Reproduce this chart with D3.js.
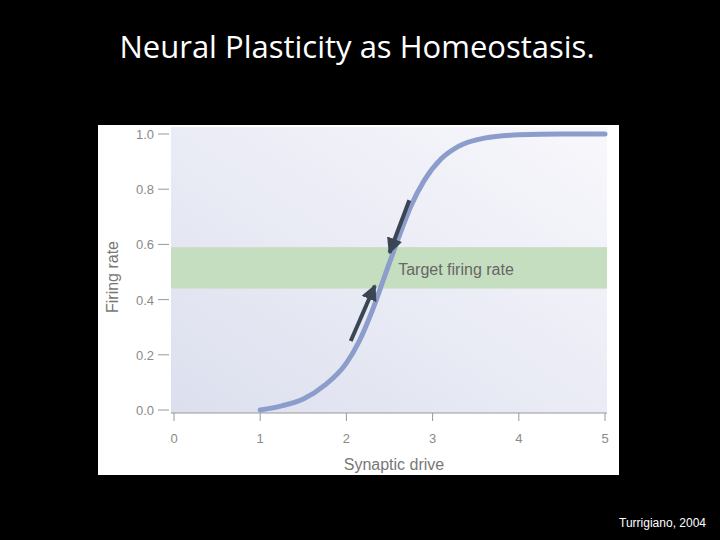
<!DOCTYPE html>
<html><head><meta charset="utf-8">
<script src="https://cdn.jsdelivr.net/npm/d3@7"></script>
<style>body{margin:0;background:#000;}</style>
</head><body>
<script>
const xTicks = [0, 1, 2, 3, 4, 5];
const yTicks = [0.0, 0.2, 0.4, 0.6, 0.8, 1.0];
const curveX = [1, 1.25, 1.5, 1.75, 2, 2.15, 2.3, 2.45, 2.6, 2.75, 2.9, 3.1, 3.3, 3.6, 4, 4.5, 5];
const curveY = [0, 0.015, 0.04, 0.09, 0.17, 0.25, 0.36, 0.49, 0.62, 0.74, 0.83, 0.91, 0.955, 0.985, 0.997, 1, 1];
const targetBand = [0.44, 0.59];
const arrows = [[[2.05, 0.25], [2.33, 0.45]], [[2.73, 0.76], [2.5, 0.57]]];

const svg = d3.select('body').append('svg').attr('width', 720).attr('height', 540);
svg.append('rect').attr('width', 720).attr('height', 540).attr('fill', '#000');
svg.append('text').attr('x', 357).attr('y', 58).attr('text-anchor', 'middle')
  .attr('fill', '#fff').style('font', '31px "Open Sans", sans-serif')
  .text('Neural Plasticity as Homeostasis.');

svg.append('rect').attr('x', 98).attr('y', 125).attr('width', 521).attr('height', 350).attr('fill', '#fff');

const x = d3.scaleLinear().domain([0, 5]).range([174, 605]);
const y = d3.scaleLinear().domain([0, 1]).range([410, 134]);

const defs = svg.append('defs');
const g = defs.append('linearGradient').attr('id', 'bg').attr('x1', 0).attr('y1', 1).attr('x2', 1).attr('y2', 0);
g.append('stop').attr('offset', 0).attr('stop-color', '#dcdfee');
g.append('stop').attr('offset', 1).attr('stop-color', '#f8f8fc');
const mk = defs.append('marker').attr('id', 'ah').attr('viewBox', '0 0 10 10').attr('refX', 9).attr('refY', 5)
  .attr('markerWidth', 4).attr('markerHeight', 4).attr('orient', 'auto');
mk.append('path').attr('d', 'M0,0L10,5L0,10Z').attr('fill', '#3b4654');

svg.append('rect').attr('x', 171).attr('y', 127).attr('width', 436).attr('height', 286).attr('fill', 'url(#bg)');
svg.append('rect').attr('x', 171).attr('y', y(targetBand[1])).attr('width', 436)
  .attr('height', y(targetBand[0]) - y(targetBand[1])).attr('fill', '#c5dec0');

const lab = {fill: '#8a8a8a', font: '13px "Liberation Sans", Arial, sans-serif'};
yTicks.forEach(t => {
  svg.append('line').attr('x1', 158).attr('x2', 169).attr('y1', y(t)).attr('y2', y(t)).attr('stroke', '#999');
  svg.append('text').attr('x', 154).attr('y', y(t) + 5).attr('text-anchor', 'end')
    .attr('fill', lab.fill).style('font', lab.font).text(t.toFixed(1));
});
svg.append('line').attr('x1', 171).attr('x2', 607).attr('y1', 413).attr('y2', 413).attr('stroke', '#999');
xTicks.forEach(t => {
  svg.append('line').attr('x1', x(t)).attr('x2', x(t)).attr('y1', 413).attr('y2', 421).attr('stroke', '#999');
  svg.append('text').attr('x', x(t)).attr('y', 443).attr('text-anchor', 'middle')
    .attr('fill', lab.fill).style('font', lab.font).text(t);
});
svg.append('text').attr('x', 394).attr('y', 470).attr('text-anchor', 'middle')
  .attr('fill', '#777').style('font', '16px "Liberation Sans", Arial, sans-serif').text('Synaptic drive');
svg.append('text').attr('transform', 'translate(118,277) rotate(-90)').attr('text-anchor', 'middle')
  .attr('fill', '#777').style('font', '16px "Liberation Sans", Arial, sans-serif').text('Firing rate');

const line = d3.line().x(d => x(d[0])).y(d => y(d[1])).curve(d3.curveMonotoneX);
svg.append('path').datum(curveX.map((v, i) => [v, curveY[i]])).attr('d', line)
  .attr('fill', 'none').attr('stroke', '#8d9dcb').attr('stroke-width', 5).attr('stroke-linecap', 'round');

arrows.forEach(a => {
  svg.append('line').attr('x1', x(a[0][0])).attr('y1', y(a[0][1])).attr('x2', x(a[1][0])).attr('y2', y(a[1][1]))
    .attr('stroke', '#3b4654').attr('stroke-width', 4).attr('marker-end', 'url(#ah)');
});

svg.append('text').attr('x', 456).attr('y', 275).attr('text-anchor', 'middle')
  .attr('fill', '#666').style('font', '16px "Liberation Sans", Arial, sans-serif').text('Target firing rate');

svg.append('text').attr('x', 706).attr('y', 527).attr('text-anchor', 'end')
  .attr('fill', '#fff').style('font', '12px "Liberation Sans", Arial, sans-serif').text('Turrigiano, 2004');
</script>
</body></html>
